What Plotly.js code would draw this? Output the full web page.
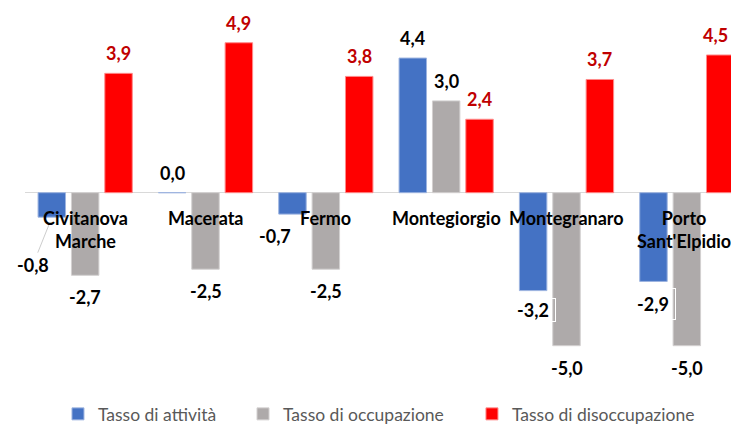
<!DOCTYPE html>
<html>
<head>
<meta charset="utf-8">
<script src="https://cdn.plot.ly/plotly-3.0.1.min.js"></script>
<style>
  html, body { margin: 0; padding: 0; background: #ffffff; }
  #chart { width: 731px; height: 425px; }
</style>
</head>
<body>
<div id="chart"></div>
<script>
// ---- data ----
const categories = ['Civitanova Marche', 'Macerata', 'Fermo', 'Montegiorgio', 'Montegranaro', "Porto Sant'Elpidio"];
const categoryLabels = ['Civitanova<br>Marche', 'Macerata', 'Fermo', 'Montegiorgio', 'Montegranaro', "Porto<br>Sant'Elpidio"];
const seriesNames = ['Tasso di attività', 'Tasso di occupazione', 'Tasso di disoccupazione'];
const tassoAttivita = [-0.8, 0.0, -0.7, 4.4, -3.2, -2.9];
const tassoOccupazione = [-2.7, -2.5, -2.5, 3.0, -5.0, -5.0];
const tassoDisoccupazione = [3.9, 4.9, 3.8, 2.4, 3.7, 4.5];

// ---- style ----
const FONT = 'Lato, "Open Sans", sans-serif';
const colors = ['#4472C4', '#AEAAAA', '#FF0000'];
const lineColors = ['#9DB4E0', '#D3D0D0', '#FF8A8A'];
const labelColors = ['#000000', '#000000', '#C00000'];
const slotPx = 33.4;            // horizontal distance between bars in a group
const allSeries = [tassoAttivita, tassoOccupazione, tassoDisoccupazione];
const legendIds = ['legend', 'legend2', 'legend3'];

const traces = allSeries.map((vals, i) => ({
  type: 'bar',
  name: seriesNames[i],
  x: categories,
  y: vals,
  marker: { color: colors[i], line: { color: lineColors[i], width: 1 } },
  legend: legendIds[i],
  hoverinfo: 'none'
}));

// special label placements (pixel tweaks) keyed by "series-category"
const labelTweaks = {
  '0-0': { arrow: true, tipDx: -3, tipDy: -8, ax: -16, ay: 40 },
  '0-2': { dx: -17 },
  '0-4': { box: true, dx: 0, dy: -19.5, w: 44, h: 22 },
  '0-5': { box: true, dx: 0, dy: -22.5, w: 44, h: 30 },
  '2-5': { dx: -5 }
};
const categoryLabelShift = [0, 0, 0, 0, 0, -3];

const fmt = v => v.toFixed(1).replace('.', ',');
const annotations = [];

allSeries.forEach((vals, i) => {
  vals.forEach((v, j) => {
    const t = labelTweaks[i + '-' + j] || {};
    const baseShift = (i - 1) * slotPx;
    const a = {
      x: categories[j], y: v, xref: 'x', yref: 'y',
      text: fmt(v),
      showarrow: false,
      font: { family: FONT, size: 18, color: labelColors[i], weight: 'bold' },
      xanchor: 'center', yanchor: 'middle',
      xshift: baseShift + (t.dx || 0),
      yshift: t.dy !== undefined ? t.dy : (v >= 0 ? 20 : -22)
    };
    if (t.arrow) {
      a.showarrow = true;
      a.arrowhead = 0;
      a.arrowwidth = 0.8;
      a.arrowcolor = '#BFBFBF';
      a.xshift = baseShift + t.tipDx;
      a.yshift = t.tipDy;
      a.ax = t.ax; a.ay = t.ay;
      a.standoff = 0;
    }
    if (t.box) {
      a.bordercolor = '#FFFFFF';
      a.borderwidth = 1;
      a.borderpad = 0;
      a.width = t.w;
      a.height = t.h;
      a.align = 'center';
      a.valign = 'middle';
    }
    annotations.push(a);
  });
});

// category labels along the zero line
categories.forEach((c, j) => {
  annotations.push({
    x: c, y: 0, xref: 'x', yref: 'y',
    text: categoryLabels[j],
    showarrow: false,
    font: { family: FONT, size: 18, color: '#000000', weight: 'bold' },
    xanchor: 'center', yanchor: 'top',
    xshift: categoryLabelShift[j],
    yshift: -12
  });
});

const legendX = [0.0467, 0.3088, 0.6331];
const legendBase = (x) => ({
  x: x, xanchor: 'left', y: -0.0615, yanchor: 'middle',
  orientation: 'h',
  bgcolor: 'rgba(0,0,0,0)',
  font: { family: FONT, size: 17.5, color: '#595959' }
});

const layout = {
  width: 731, height: 425,
  margin: { l: 25, r: 0, t: 0, b: 35, autoexpand: false },
  paper_bgcolor: '#FFFFFF',
  plot_bgcolor: '#FFFFFF',
  barmode: 'group',
  bargap: 0.168,
  bargroupgap: 0.177,
  showlegend: true,
  legend: legendBase(legendX[0]),
  legend2: legendBase(legendX[1]),
  legend3: legendBase(legendX[2]),
  xaxis: {
    type: 'category',
    range: [-0.5, 5.367],
    showticklabels: false, showgrid: false, zeroline: false, showline: false,
    ticks: '', fixedrange: true
  },
  yaxis: {
    range: [-6.448, 6.297],
    showticklabels: false, showgrid: false,
    zeroline: true, zerolinecolor: '#D9D9D9', zerolinewidth: 1,
    showline: false, ticks: '', fixedrange: true
  },
  annotations: annotations,
  font: { family: FONT }
};

Plotly.newPlot('chart', traces, layout, { staticPlot: true, displayModeBar: false });
</script>
</body>
</html>
